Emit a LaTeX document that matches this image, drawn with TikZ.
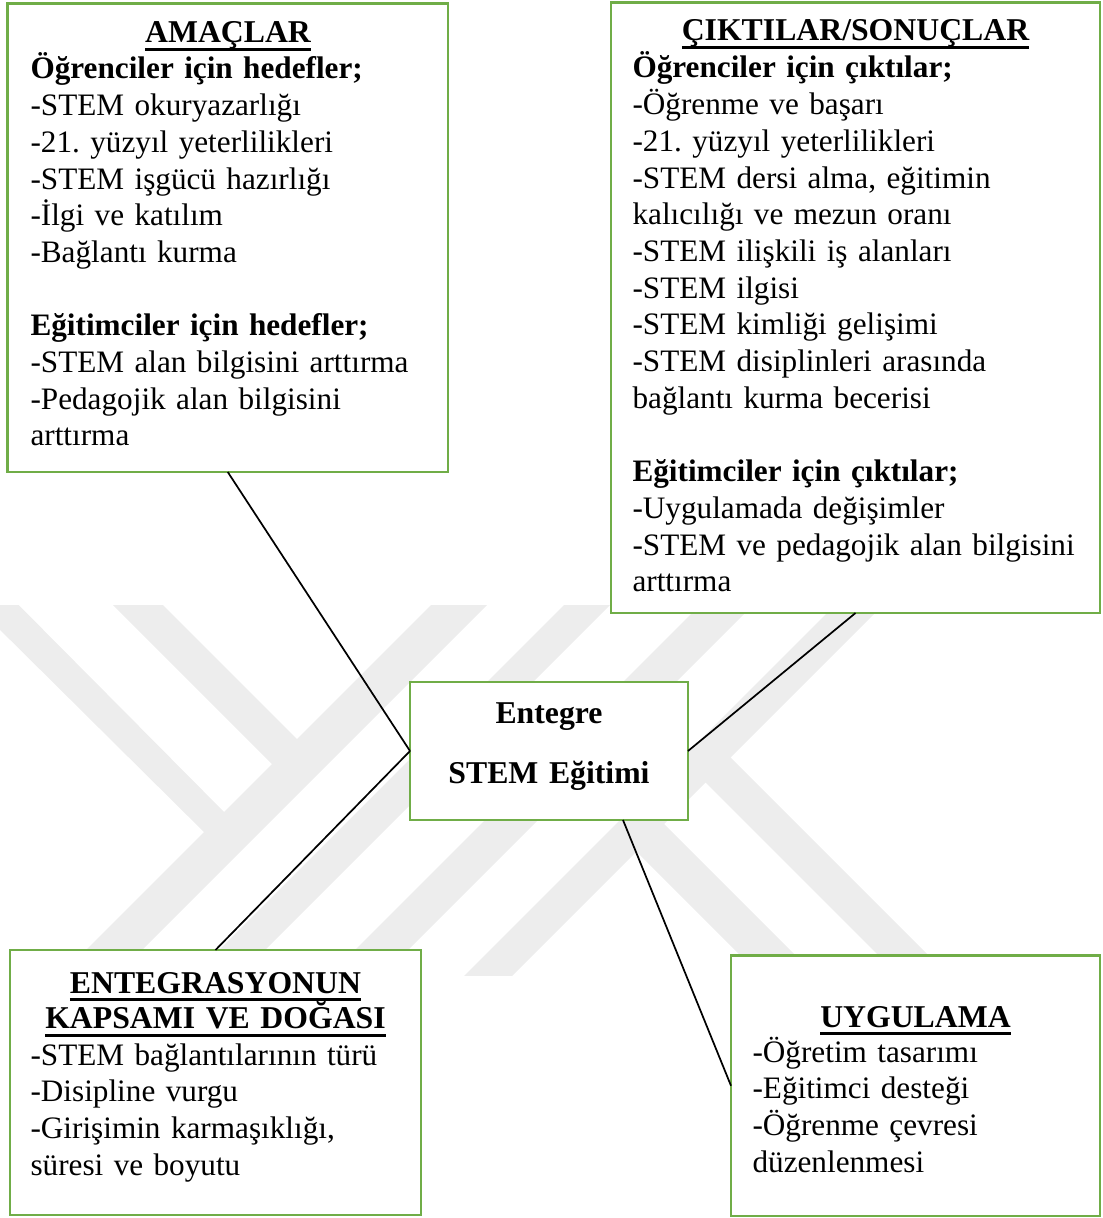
\documentclass[tikz,border=0pt]{standalone}
\usepackage{fontspec}
\setmainfont{Liberation Serif}
\usetikzlibrary{fit}

\definecolor{boxgreen}{RGB}{112,173,71}
\definecolor{wmgray}{RGB}{237,237,237}

% bold heading with a heavy underline
\newsavebox\hdbox
\newcommand\headul[1]{\leavevmode\sbox\hdbox{#1}\rlap{\rule[-3.1pt]{\wd\hdbox}{1.15pt}}\usebox\hdbox}

\frenchspacing

\begin{document}
\begin{tikzpicture}[x=0.378pt, y=-0.378pt,
  box/.style={draw=boxgreen, line width=0.95pt, fill=white, inner sep=0pt, outer sep=0pt},
  link/.style={draw=black, line width=0.65pt},
  bodytext/.style={anchor=base west, inner sep=0pt, align=left,
    font=\fontsize{11.8pt}{13.87pt}\selectfont\frenchspacing},
  headtext/.style={anchor=base, inner sep=0pt, align=center,
    font=\fontsize{12pt}{13.87pt}\selectfont\bfseries},
  wm/.style={fill=wmgray, draw=none}]

\useasboundingbox (0,0) rectangle (1103,1218);

% faint emblem in the background
\begin{scope}
  \clip (0,605) rectangle (1103,975);
  \fill[wm] (446,590) -- (502,590) -- (102,990) -- (46,990) -- cycle;
  \fill[wm] (-20,566) -- (236,824) -- (216,844) -- (-20,610) -- cycle;
  \fill[wm] (98,590) -- (148,590) -- (309,751) -- (284,776) -- cycle;
  \fill[wm] (579,590) -- (625,590) -- (225,990) -- (179,990) -- cycle;
  \fill[wm] (715,590) -- (768,590) -- (368,990) -- (315,990) -- cycle;
  \fill[wm] (850,590) -- (898,590) -- (498,990) -- (450,990) -- cycle;
  \fill[wm] (718.5,745.5) -- (963,990) -- (913,990) -- (693.5,770.5) -- cycle;
  \fill[wm] (652,812) -- (830,990) -- (775,990) -- (624.5,839.5) -- cycle;
\end{scope}

% boxes
\node[box, fit={(7.5,3.5) (448,472)}] (amac) {};
\node[box, fit={(611,2.5) (1100,613)}] (cikti) {};
\node[box, fit={(410,682) (688,820)}] (merkez) {};
\node[box, fit={(10,950) (421,1215)}] (entg) {};
\node[box, fit={(731,955.5) (1100,1216)}] (uyg) {};

% connectors
\draw[link] (amac.south) -- (merkez.west);
\draw[link] (merkez.west) -- (entg.north);
\draw[link] (merkez.east) -- (cikti.south);
\draw[link] (merkez.-43) -- (uyg.west);

% texts
\node[headtext] (amacHead) at (228,43) {\headul{AMAÇLAR}};
\node[bodytext, text width=160pt] (amacBody) at (30,79) {%
  \textbf{Öğrenciler için hedefler;}\\
  -STEM okuryazarlığı\\
  -21. yüzyıl yeterlilikleri\\
  -STEM işgücü hazırlığı\\
  -İlgi ve katılım\\
  -Bağlantı kurma\\[13.87pt]
  \textbf{Eğitimciler için hedefler;}\\
  -STEM alan bilgisini arttırma\\
  -Pedagojik alan bilgisini\\
  arttırma};

\node[headtext] (ciktiHead) at (855.5,41) {\headul{ÇIKTILAR/SONUÇLAR}};
\node[bodytext, text width=176pt] (ciktiBody) at (632,78) {%
  \textbf{Öğrenciler için çıktılar;}\\
  -Öğrenme ve başarı\\
  -21. yüzyıl yeterlilikleri\\
  -STEM dersi alma, eğitimin\\
  kalıcılığı ve mezun oranı\\
  -STEM ilişkili iş alanları\\
  -STEM ilgisi\\
  -STEM kimliği gelişimi\\
  -STEM disiplinleri arasında\\
  bağlantı kurma becerisi\\[13.87pt]
  \textbf{Eğitimciler için çıktılar;}\\
  -Uygulamada değişimler\\
  -STEM ve pedagojik alan bilgisini\\
  arttırma};

\node[headtext, text width=120pt, font=\fontsize{12pt}{22.68pt}\selectfont\bfseries]
  (merkezText) at (549,723) {Entegre\\STEM Eğitimi};

\node[headtext, text width=150pt, font=\fontsize{12pt}{13.6pt}\selectfont\bfseries]
  (entgHead) at (215.5,993)
  {\headul{ENTEGRASYONUN}\\\headul{KAPSAMI VE DOĞASI}};
\node[bodytext, text width=150pt] (entgBody) at (30,1065) {%
  -STEM bağlantılarının türü\\
  -Disipline vurgu\\
  -Girişimin karmaşıklığı,\\
  süresi ve boyutu};

\node[headtext] (uygHead) at (915.5,1027) {\headul{UYGULAMA}};
\node[bodytext, text width=130pt] (uygBody) at (752,1062) {%
  -Öğretim tasarımı\\
  -Eğitimci desteği\\
  -Öğrenme çevresi\\
  düzenlenmesi};

\end{tikzpicture}
\end{document}
